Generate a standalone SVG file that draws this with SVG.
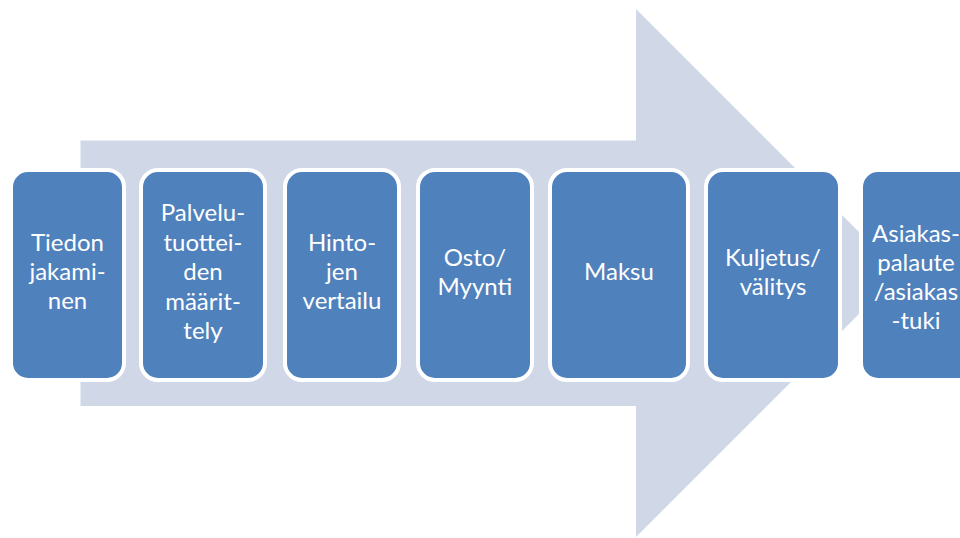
<svg xmlns="http://www.w3.org/2000/svg" width="960" height="538" viewBox="0 0 960 538">
<style>
.arrow{fill:#d0d8e8}
.box{fill:#4f81bd;stroke:#ffffff;stroke-width:4}
.lbl{font-family:Lato,"Open Sans","Liberation Sans",sans-serif;font-size:24px;fill:#ffffff;text-anchor:middle}
</style>
<rect width="960" height="538" fill="#ffffff"/>
<g id="connectors">
<polygon class="arrow" points="80.5,140.5 636,140.5 636,9 900,273 636,537 636,406 80.5,406"/>
</g>
<g id="n1"><rect class="box" x="11" y="170" width="113" height="210" rx="17"/>
<text class="lbl"><tspan x="67.5" y="251">Tiedon</tspan><tspan x="67.5" y="280">jakami-</tspan><tspan x="67.5" y="309">nen</tspan></text></g>
<g id="n2"><rect class="box" x="141" y="170" width="124" height="210" rx="17"/>
<text class="lbl"><tspan x="203" y="221">Palvelu-</tspan><tspan x="203" y="250.5">tuottei-</tspan><tspan x="203" y="280">den</tspan><tspan x="203" y="309.5">määrit-</tspan><tspan x="203" y="339">tely</tspan></text></g>
<g id="n3"><rect class="box" x="285" y="170" width="114" height="210" rx="17"/>
<text class="lbl"><tspan x="342" y="251">Hinto-</tspan><tspan x="342" y="280">jen</tspan><tspan x="342" y="309">vertailu</tspan></text></g>
<g id="n4"><rect class="box" x="418" y="170" width="114" height="210" rx="17"/>
<text class="lbl"><tspan x="475" y="265.5">Osto/</tspan><tspan x="475" y="295">Myynti</tspan></text></g>
<g id="n5"><rect class="box" x="550" y="170" width="138" height="210" rx="17"/>
<text class="lbl"><tspan x="619" y="280">Maksu</tspan></text></g>
<g id="n6"><rect class="box" x="706" y="170" width="134" height="210" rx="17"/>
<text class="lbl"><tspan x="773" y="265.5">Kuljetus/</tspan><tspan x="773" y="295">välitys</tspan></text></g>
<g id="n7"><rect class="box" x="861" y="170" width="120" height="210" rx="17"/>
<text class="lbl"><tspan x="916" y="242">Asiakas-</tspan><tspan x="916" y="271">palaute</tspan><tspan x="916" y="300">/asiakas</tspan><tspan x="916" y="329">-tuki</tspan></text></g>
</svg>
